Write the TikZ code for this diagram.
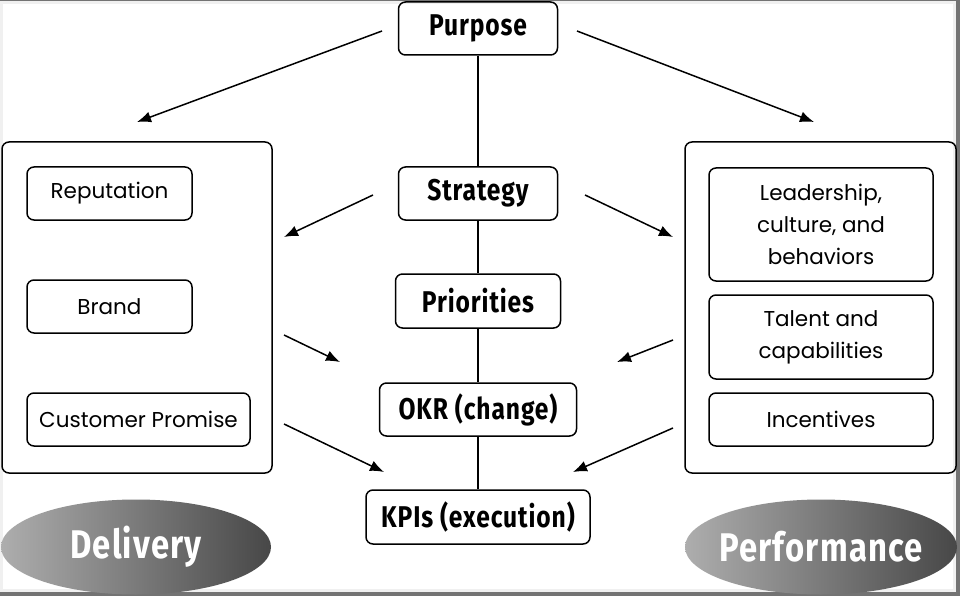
\documentclass[tikz,border=0pt]{standalone}
\usepackage{fontspec}
\setmainfont{Poppins}
\newfontfamily\headfont{Fira Sans}[FakeStretch=0.82,LetterSpace=3]
\usetikzlibrary{arrows.meta,shapes.geometric}
\begin{document}
\begin{tikzpicture}[x=1pt,y=-1pt,
  box/.style={draw,line width=1.5pt,rounded corners=7pt,align=center,inner sep=0pt},
  hbox/.style={box,font=\headfont\bfseries\fontsize{30}{32}\selectfont},
  ibox/.style={box,font=\fontsize{21.5}{32}\selectfont},
  arr/.style={-{Latex[length=14pt,width=11pt]},line width=1.5pt},
  oval/.style={ellipse,inner sep=0pt,minimum width=270pt,minimum height=95pt,left color=black!32,right color=black!72,
    text=white,font=\headfont\bfseries\fontsize{40}{44}\selectfont}]
\useasboundingbox (0,0) rectangle (960,596);
% frame
\fill[black!55] (0,0) rectangle (960,596);
\fill[black!6] (0,1.5) rectangle (956,592);
\fill[white] (3,4.5) rectangle (953,589);
% middle column
\node[hbox,minimum width=159pt,minimum height=53pt] (purpose) at (478,28.5) {Purpose};
\node[hbox,minimum width=159pt,minimum height=53pt] (strategy) at (478,193.5) {Strategy};
\node[hbox,minimum width=165pt,minimum height=54pt] (priorities) at (478,301) {Priorities};
\node[hbox,minimum width=197pt,minimum height=53pt] (okr) at (478,409.5) {OKR (change)};
\node[hbox,minimum width=224pt,minimum height=54pt] (kpis) at (478,517) {KPIs (execution)};
\draw[line width=1.5pt] (purpose) -- (strategy) -- (priorities) -- (okr) -- (kpis);
% delivery side
\node[box,minimum width=270pt,minimum height=331pt] (delbox) at (137,307.5) {};
\node[ibox,minimum width=165pt,minimum height=53pt] (reputation) at (109.5,193.5) {Reputation};
\node[ibox,minimum width=165pt,minimum height=53pt] (brand) at (109.5,306.5) {Brand};
\node[ibox,minimum width=223pt,minimum height=53pt] (promise) at (138.5,419.5) {Customer Promise};
% performance side
\node[box,minimum width=271pt,minimum height=331pt] (perfbox) at (820.5,307.5) {};
\node[ibox,minimum width=224pt,minimum height=113pt] (leadership) at (821,224.5) {Leadership,\\culture, and\\behaviors};
\node[ibox,minimum width=224pt,minimum height=84pt] (talent) at (821,337) {Talent and\\capabilities};
\node[ibox,minimum width=224pt,minimum height=53pt] (incentives) at (821,419.5) {Incentives};
% ovals
\node[oval] (delivery) at (136,547) {\makebox[0pt]{Delivery}};
\node[oval,minimum width=272pt] (performance) at (821,547) {\makebox[0pt]{Performance}};
% arrows
\coordinate (pl1) at (382,31); \coordinate (pl2) at (137,122);
\coordinate (pr1) at (577,31); \coordinate (pr2) at (814,122);
\coordinate (sl1) at (373,195); \coordinate (sl2) at (284,237);
\coordinate (sr1) at (585,195); \coordinate (sr2) at (673,237);
\coordinate (dl1) at (284,335); \coordinate (dl2) at (340,362);
\coordinate (dk1) at (284,424); \coordinate (dk2) at (384,472);
\coordinate (ql1) at (673,340); \coordinate (ql2) at (617,362);
\coordinate (qk1) at (673,428); \coordinate (qk2) at (573,472);
\draw[arr] (pl1) -- (pl2);
\draw[arr] (pr1) -- (pr2);
\draw[arr] (sl1) -- (sl2);
\draw[arr] (sr1) -- (sr2);
\draw[arr] (dl1) -- (dl2);
\draw[arr] (dk1) -- (dk2);
\draw[arr] (ql1) -- (ql2);
\draw[arr] (qk1) -- (qk2);
\end{tikzpicture}
\end{document}
